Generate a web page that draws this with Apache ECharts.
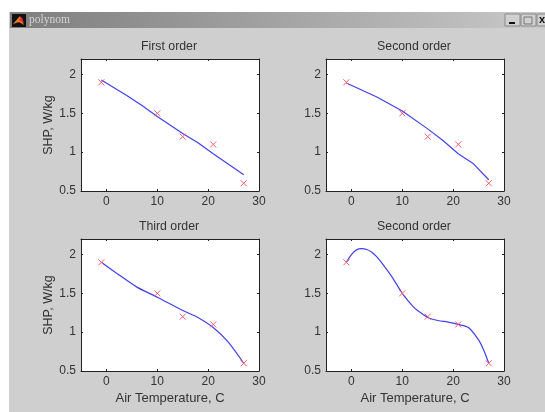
<!DOCTYPE html>
<html><head><meta charset="utf-8">
<style>html,body{margin:0;padding:0;background:#fff}#c{width:545px;height:412px}</style>
<script src="https://cdn.jsdelivr.net/npm/echarts@6/dist/echarts.min.js"></script>
</head><body><div id="c"></div>
<script>
const sampleTemp=[-1,10,15,21,27];
const sampleShp=[1.9,1.5,1.2,1.1,0.6];
const firstX=[-1,4,7,10,15,18,21,27];
const firstY=[1.93,1.73,1.6,1.46,1.24,1.12,0.98,0.71];
const secondX=[-1,5,10,15,18,21,24,27];
const secondY=[1.89,1.71,1.53,1.30,1.15,0.98,0.85,0.645];
const thirdX=[-1,2,6,10,15,18,21,24,27];
const thirdY=[1.9,1.76,1.58,1.45,1.28,1.19,1.06,0.87,0.6];
const fourthX=[-1,0,1,2,3,4,5,6,8,10,12,13,15,17,19,21,23,25,26,27];
const fourthY=[1.9,2.0,2.06,2.075,2.065,2.03,1.97,1.89,1.71,1.5,1.34,1.28,1.19,1.15,1.13,1.1,1.06,0.9,0.77,0.6];
const titles=["First order","Second order","Third order","Second order"];
const xTicks=[0,10,20,30];
const yTicks=[0.5,1,1.5,2];
const xLabel="Air Temperature, C";
const yLabel="SHP, W/kg";
const curves=[[firstX,firstY],[secondX,secondY],[thirdX,thirdY],[fourthX,fourthY]];
const smoothing=[false,false,0.25,0.3];
const boxes=[[81,59],[326,59],[81,239],[326,239]];
const W=178,H=132,TXT="#333";
const font="'Liberation Sans',Arial,sans-serif";
const grid=[],xAxis=[],yAxis=[],series=[],title=[];
boxes.forEach((b,i)=>{
  grid.push({left:b[0],top:b[1],width:W,height:H,backgroundColor:'#fff',show:true,borderWidth:0});
  const line={lineStyle:{color:'#222',width:1}};
  const bottom=i>=2, left=i%2===0;
  xAxis.push({gridIndex:i,type:'value',min:-5,max:30,position:'bottom',
    name:bottom?xLabel:'',nameLocation:'middle',nameGap:21,nameTextStyle:{color:TXT,fontSize:13,fontFamily:font},
    axisLine:{onZero:false,...line},splitLine:{show:false},
    axisTick:{inside:true,length:2,customValues:xTicks,...line},
    axisLabel:{color:TXT,fontSize:12,fontFamily:font,margin:5,customValues:xTicks}});
  xAxis.push({gridIndex:i,type:'value',min:-5,max:30,position:'top',
    axisLine:{onZero:false,...line},splitLine:{show:false},
    axisTick:{inside:true,length:2,customValues:xTicks,...line},axisLabel:{show:false}});
  yAxis.push({gridIndex:i,type:'value',min:0.5,max:2.2,position:'left',
    name:left?yLabel:'',nameLocation:'middle',nameGap:25,nameTextStyle:{color:TXT,fontSize:12.5,fontFamily:font},
    axisLine:{onZero:false,...line},splitLine:{show:false},
    axisTick:{inside:true,length:2,customValues:yTicks,...line},
    axisLabel:{color:TXT,fontSize:12,fontFamily:font,margin:5,customValues:yTicks}});
  yAxis.push({gridIndex:i,type:'value',min:0.5,max:2.2,position:'right',
    axisLine:{onZero:false,...line},splitLine:{show:false},
    axisTick:{inside:true,length:2,customValues:yTicks,...line},axisLabel:{show:false}});
  title.push({text:titles[i],left:b[0]+W/2-6,top:b[1]-23,textAlign:'center',
    textStyle:{color:TXT,fontSize:12.3,fontWeight:'normal',fontFamily:font}});
  const xi=i*2,yi=i*2;
  series.push({type:'line',xAxisIndex:xi,yAxisIndex:yi,showSymbol:false,smooth:smoothing[i],
    data:curves[i][0].map((x,k)=>[x,curves[i][1][k]]),lineStyle:{color:'#4040ee',width:1.2},silent:true,z:2});
  series.push({type:'scatter',xAxisIndex:xi,yAxisIndex:yi,symbol:'path://M0 0L10 10M10 0L0 10',symbolSize:6,
    data:sampleTemp.map((x,k)=>[x,sampleShp[k]]),
    itemStyle:{color:'none',borderColor:'#ff5a6e',borderWidth:1,opacity:1},silent:true,z:3});
});
const graphic=[
 {type:'rect',shape:{x:9,y:12,width:536,height:400},style:{fill:'#cfcfcf'},z:-10},
 {type:'rect',shape:{x:10,y:12,width:535,height:16},z:-9,
  style:{fill:{type:'linear',x:0,y:0,x2:1,y2:0,colorStops:[{offset:0,color:'#7e7e7e'},{offset:1,color:'#c8c8c8'}]}}},
 {type:'rect',shape:{x:12,y:14,width:14,height:13},style:{fill:'#111'},z:-8},
 {type:'polygon',shape:{points:[[13,24],[20,16],[24,25],[19,22]]},style:{fill:'#f07a20'},z:-7},
 {type:'polygon',shape:{points:[[19,20],[22,17],[24,23]]},style:{fill:'#e02050'},z:-7},
 {type:'text',x:29,y:14,style:{text:'polynom',fill:'#d4d4d4',font:"11.5px 'Liberation Serif',serif"},z:-7},
 {type:'rect',shape:{x:505,y:14,width:15,height:12},style:{fill:'#d0d0d0',stroke:'#8a8a8a',lineWidth:1},z:-7},
 {type:'rect',shape:{x:521,y:14,width:15,height:12},style:{fill:'#d0d0d0',stroke:'#8a8a8a',lineWidth:1},z:-7},
 {type:'rect',shape:{x:537,y:14,width:9,height:12},style:{fill:'#d0d0d0',stroke:'#8a8a8a',lineWidth:1},z:-7},
 {type:'rect',shape:{x:509,y:22,width:6,height:2},style:{fill:'#111'},z:-6},
 {type:'rect',shape:{x:524,y:17,width:8,height:7},style:{fill:'none',stroke:'#777',lineWidth:1},z:-6},
 {type:'text',x:539,y:14,style:{text:'x',fill:'#111',font:"bold 11px 'Liberation Sans',sans-serif"},z:-6}
];
const chart=echarts.init(document.getElementById('c'),null,{renderer:'canvas'});
chart.setOption({animation:false,backgroundColor:'#fff',title,grid,xAxis,yAxis,series,graphic});
</script></body></html>
